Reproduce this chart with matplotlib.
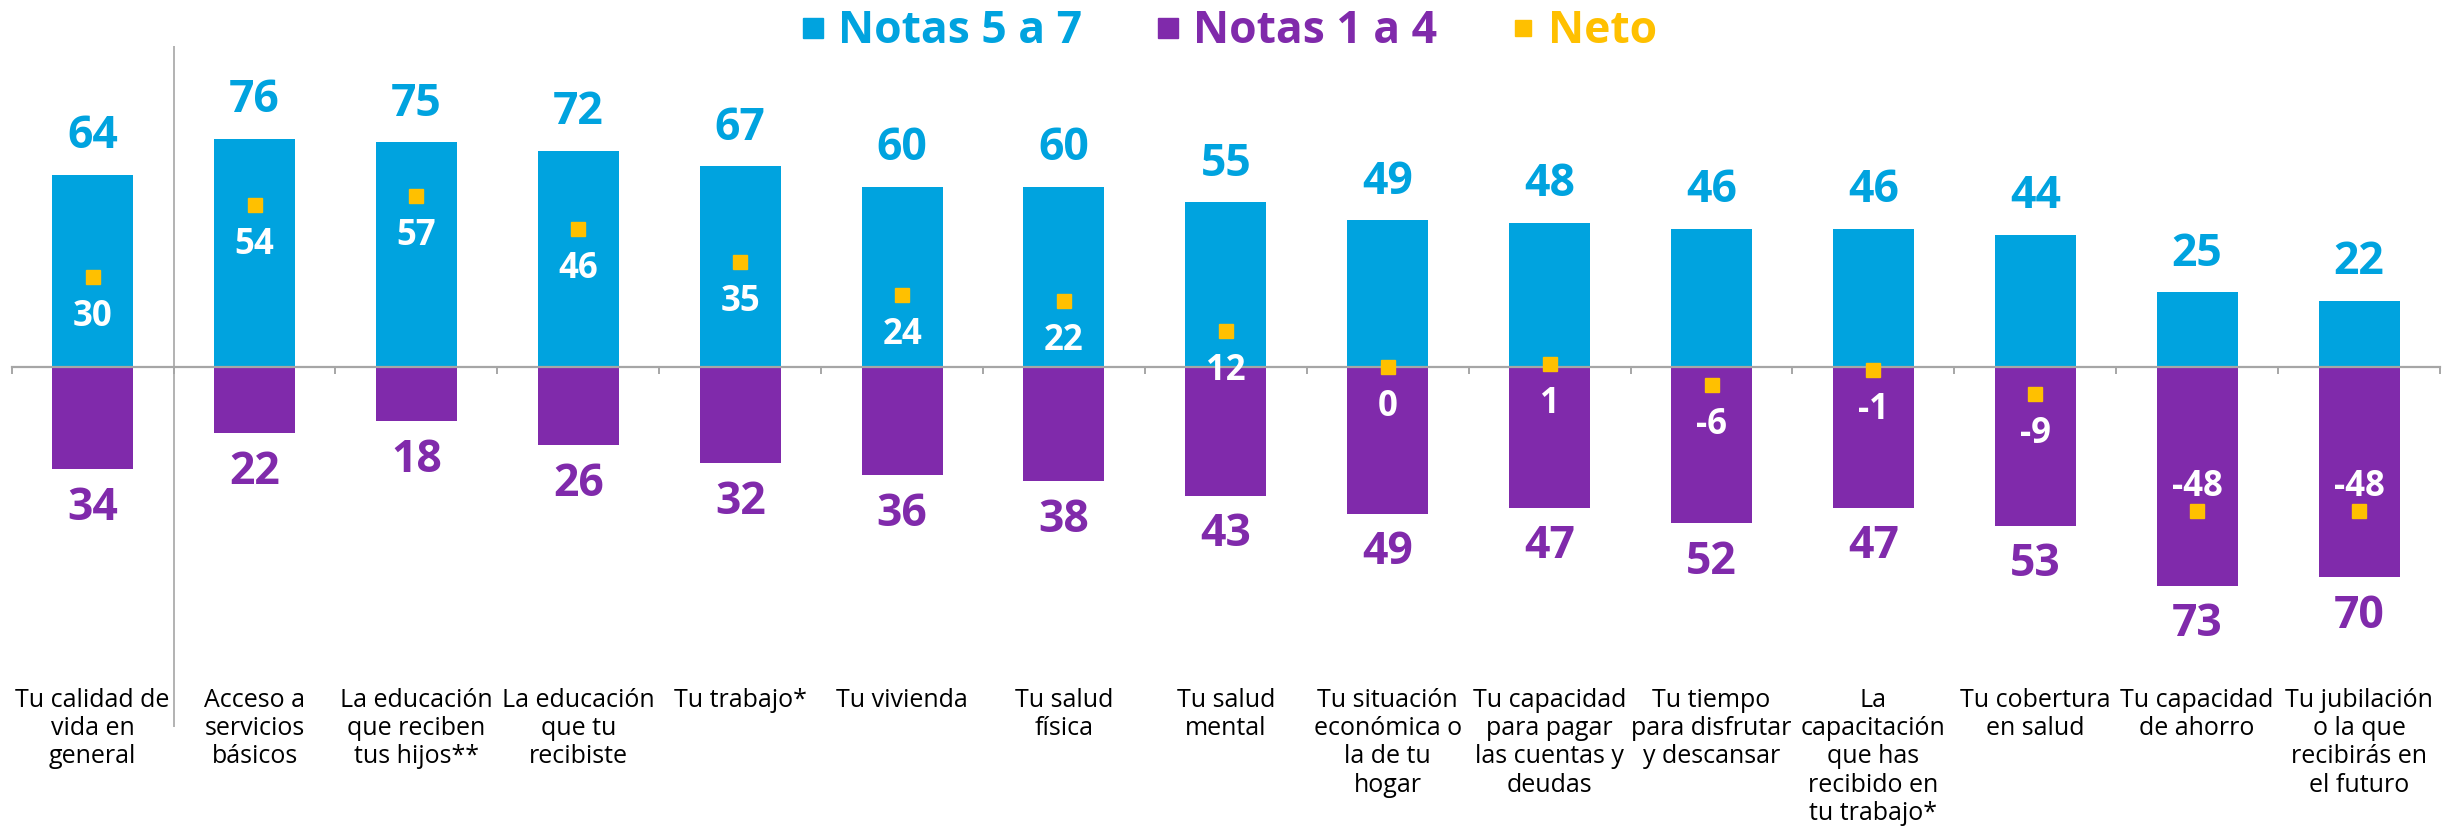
import matplotlib
matplotlib.use('Agg')
import matplotlib.pyplot as plt
from matplotlib.lines import Line2D

# datos
categorias = [
    "Tu calidad de\nvida en\ngeneral",
    "Acceso a\nservicios\nbásicos",
    "La educación\nque reciben\ntus hijos**",
    "La educación\nque tu\nrecibiste",
    "Tu trabajo*",
    "Tu vivienda",
    "Tu salud\nfísica",
    "Tu salud\nmental",
    "Tu situación\neconómica o\nla de tu\nhogar",
    "Tu capacidad\npara pagar\nlas cuentas y\ndeudas",
    "Tu tiempo\npara disfrutar\ny descansar",
    "La\ncapacitación\nque has\nrecibido en\ntu trabajo*",
    "Tu cobertura\nen salud",
    "Tu capacidad\nde ahorro",
    "Tu jubilación\no la que\nrecibirás en\nel futuro",
]
notas_5_7 = [64, 76, 75, 72, 67, 60, 60, 55, 49, 48, 46, 46, 44, 25, 22]
notas_1_4 = [34, 22, 18, 26, 32, 36, 38, 43, 49, 47, 52, 47, 53, 73, 70]
neto = [30, 54, 57, 46, 35, 24, 22, 12, 0, 1, -6, -1, -9, -48, -48]

AZUL = '#00A3DF'
MORADO = '#802AAB'
AMARILLO = '#FFC000'
GRIS = '#A6A6A6'
FUENTE = 'Open Sans'

fig = plt.figure(figsize=(24.59, 8.27), dpi=100)
ax = fig.add_axes([11.7 / 2459, 100 / 827, 2428.3 / 2459, 681 / 827])

x = list(range(len(categorias)))
ax.bar(x, notas_5_7, width=0.5, color=AZUL, zorder=1)
ax.bar(x, [-v for v in notas_1_4], width=0.5, color=MORADO, zorder=1)
ax.plot(x, neto, 's', color=AMARILLO, markersize=10.5, zorder=4)

# etiquetas
for i in x:
    ax.annotate(str(notas_5_7[i]), (i, notas_5_7[i]), xytext=(0, 38),
                textcoords='offset pixels', ha='center', va='center',
                fontsize=32, fontweight='bold', color=AZUL, family=FUENTE)
    ax.annotate(str(notas_1_4[i]), (i, -notas_1_4[i]), xytext=(0, -39),
                textcoords='offset pixels', ha='center', va='center',
                fontsize=32, fontweight='bold', color=MORADO, family=FUENTE)
    dy = 24 if neto[i] < -30 else -40
    ax.annotate(str(neto[i]), (i, neto[i]), xytext=(0, dy),
                textcoords='offset pixels', ha='center', va='center',
                fontsize=25, fontweight='bold', color='white', family=FUENTE,
                zorder=5)
    ax.text(i, -107, categorias[i], ha='center', va='top', fontsize=18,
            linespacing=1.17, family=FUENTE, color='black')

ax.set_xlim(-0.5, 14.5)
ax.set_ylim(-120, 107)
ax.axvline(0.5, color=GRIS, lw=1.2)

for s in ['top', 'right', 'left']:
    ax.spines[s].set_visible(False)
ax.spines['bottom'].set_position(('data', 0))
ax.spines['bottom'].set_color(GRIS)
ax.spines['bottom'].set_linewidth(1.6)
ax.spines['bottom'].set_zorder(3)
ax.set_xticks([b - 0.5 for b in range(len(categorias) + 1)])
ax.tick_params(axis='x', direction='out', length=5, width=1.4, color=GRIS,
               labelbottom=False)
ax.set_yticks([])

handles = [
    Line2D([], [], marker='s', ls='', color=AZUL, markersize=14.5),
    Line2D([], [], marker='s', ls='', color=MORADO, markersize=14.5),
    Line2D([], [], marker='s', ls='', color=AMARILLO, markersize=11.5),
]
fig.legend(handles, ['Notas 5 a 7', 'Notas 1 a 4', 'Neto'], loc='upper center',
           bbox_to_anchor=(0.5, 1.037), ncol=3, frameon=False,
           prop={'family': FUENTE, 'weight': 'bold', 'size': 32},
           labelcolor=[AZUL, MORADO, AMARILLO], handlelength=0.5,
           handletextpad=0.3, columnspacing=1.7)

fig.savefig('out.png', dpi=100)
